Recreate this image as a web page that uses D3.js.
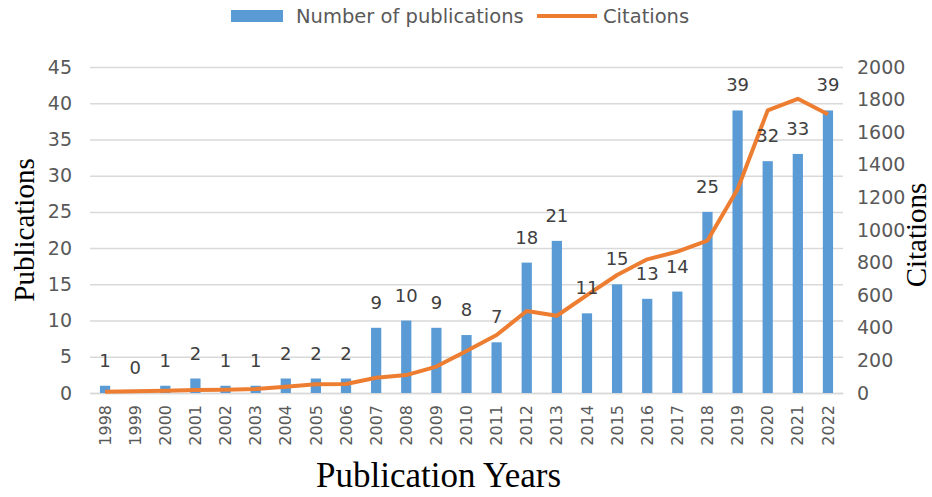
<!DOCTYPE HTML>
<html lang="en">
<head>
<meta charset="utf-8" />
<title>Publications and Citations</title>
<style>
  body { margin: 0; background: #fff; }
</style>
</head>
<body>
<div id="chart"></div>
<script src="https://d3js.org/d3.v7.min.js"></script>
<script>
const years = ["1998","1999","2000","2001","2002","2003","2004","2005","2006","2007","2008","2009",
  "2010","2011","2012","2013","2014","2015","2016","2017","2018","2019","2020","2021","2022"];
const publications = [1,0,1,2,1,1,2,2,2,9,10,9,8,7,18,21,11,15,13,14,25,39,32,33,39];
const citations = [8,10,14,18,20,24,39,53,55,94,110,162,258,356,503,474,601,724,820,867,935,1250,1734,1805,1710];
const pubTicks = [0,5,10,15,20,25,30,35,40,45];
const citTicks = [0,200,400,600,800,1000,1200,1400,1600,1800,2000];

const W = 932, H = 497;
const margin = { top: 67, right: 89, bottom: 104, left: 90 };
const width = W - margin.left - margin.right;
const height = H - margin.top - margin.bottom;

const blue = "#5b9bd5", orange = "#ed7d31", grey = "#595959";

const svg = d3.select("#chart").append("svg")
    .attr("width", W).attr("height", H)
    .style("font-family", "'DejaVu Sans', Verdana, sans-serif");

const g = svg.append("g").attr("transform", `translate(${margin.left},${margin.top})`);

const x = d3.scaleBand().domain(years).range([0, width]).paddingInner(0.66).paddingOuter(0.33);
const y = d3.scaleLinear().domain([0, 45]).range([height, 0]);
const y2 = d3.scaleLinear().domain([0, 2000]).range([height, 0]);

// grid
g.append("g")
    .call(d3.axisLeft(y).tickValues(pubTicks).tickSize(-width).tickFormat(""))
    .call(a => a.select(".domain").remove())
    .call(a => a.selectAll("line").attr("stroke", "#d9d9d9").attr("stroke-width", 1.5));

// left axis
g.append("g")
    .call(d3.axisLeft(y).tickValues(pubTicks).tickSize(0).tickPadding(18))
    .call(a => a.select(".domain").remove())
    .call(a => a.selectAll("text").attr("fill", grey).style("font-size", "19px")
        .style("font-family", "'DejaVu Sans', Verdana, sans-serif"));

// right axis
g.append("g")
    .attr("transform", `translate(${width},0)`)
    .call(d3.axisRight(y2).tickValues(citTicks).tickSize(0).tickPadding(14).tickFormat(d3.format("d")))
    .call(a => a.select(".domain").remove())
    .call(a => a.selectAll("text").attr("fill", grey).style("font-size", "19px")
        .style("font-family", "'DejaVu Sans', Verdana, sans-serif"));

// bottom axis
g.append("g")
    .attr("transform", `translate(0,${height})`)
    .call(d3.axisBottom(x).tickSize(0).tickPadding(12))
    .call(a => a.select(".domain").attr("stroke", "#d9d9d9").attr("stroke-width", 1.5))
    .call(a => a.selectAll("text")
        .attr("fill", grey)
        .style("font-size", "16px")
        .style("font-family", "'DejaVu Sans', Verdana, sans-serif")
        .attr("text-anchor", "end")
        .attr("transform", "rotate(-90)")
        .attr("x", -12).attr("y", 0).attr("dy", "0.35em"));

// bars
g.selectAll(".bar").data(years).join("rect")
    .attr("class", "bar")
    .attr("x", d => x(d))
    .attr("width", x.bandwidth())
    .attr("y", (d, i) => y(publications[i]))
    .attr("height", (d, i) => height - y(publications[i]))
    .attr("fill", blue);

// line
const line = d3.line()
    .x((d, i) => x(years[i]) + x.bandwidth() / 2)
    .y(d => y2(d));
g.append("path")
    .datum(citations)
    .attr("d", line)
    .attr("fill", "none")
    .attr("stroke", orange)
    .attr("stroke-width", 4)
    .attr("stroke-linejoin", "round");

// data labels
g.selectAll(".lbl").data(years).join("text")
    .attr("class", "lbl")
    .attr("x", d => x(d) + x.bandwidth() / 2)
    .attr("y", (d, i) => y(publications[i]) - 19)
    .attr("text-anchor", "middle")
    .attr("fill", "#404040")
    .style("font-size", "18px")
    .text((d, i) => publications[i]);

// axis titles
svg.append("text")
    .attr("transform", `translate(34,${margin.top + height / 2}) rotate(-90)`)
    .attr("text-anchor", "middle")
    .style("font-family", "'Liberation Serif', 'Times New Roman', serif")
    .style("font-size", "29px")
    .attr("fill", "#000")
    .text("Publications");

svg.append("text")
    .attr("transform", `translate(926,${margin.top + height / 2 + 5}) rotate(-90)`)
    .attr("text-anchor", "middle")
    .style("font-family", "'Liberation Serif', 'Times New Roman', serif")
    .style("font-size", "29px")
    .attr("fill", "#000")
    .text("Citations");

svg.append("text")
    .attr("x", margin.left + width / 2 - 28)
    .attr("y", 487)
    .attr("text-anchor", "middle")
    .style("font-family", "'Liberation Serif', 'Times New Roman', serif")
    .style("font-size", "35px")
    .attr("fill", "#000")
    .text("Publication Years");

// legend
const leg = svg.append("g").attr("transform", "translate(231,0)");
leg.append("rect").attr("x", 0).attr("y", 10).attr("width", 52).attr("height", 12).attr("fill", blue);
leg.append("text").attr("x", 65).attr("y", 23).attr("fill", grey).style("font-size", "19.5px")
    .text("Number of publications");
leg.append("line").attr("x1", 306).attr("x2", 366).attr("y1", 16).attr("y2", 16)
    .attr("stroke", orange).attr("stroke-width", 4);
leg.append("text").attr("x", 372).attr("y", 23).attr("fill", grey).style("font-size", "19.5px")
    .text("Citations");
</script>
</body>
</html>
